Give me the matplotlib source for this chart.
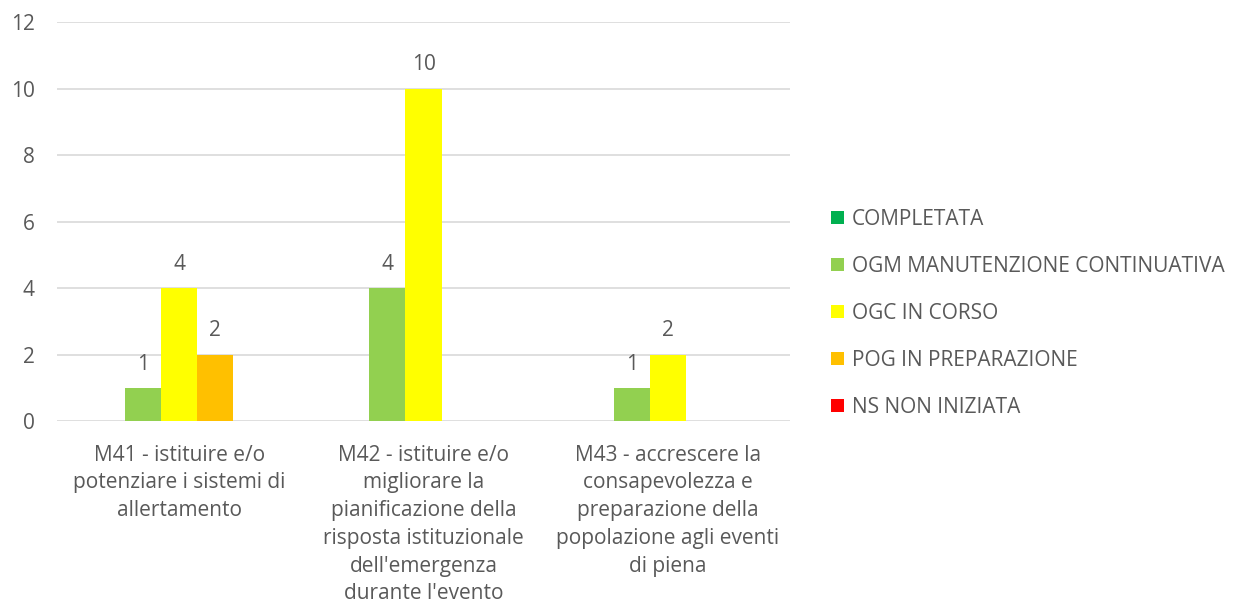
import numpy as np
import matplotlib.pyplot as plt

# Data
categories = [
    "M41 - istituire e/o\npotenziare i sistemi di\nallertamento",
    "M42 - istituire e/o\nmigliorare la\npianificazione della\nrisposta istituzionale\ndell'emergenza\ndurante l'evento",
    "M43 - accrescere la\nconsapevolezza e\npreparazione della\npopolazione agli eventi\ndi piena",
]
series_names = ["COMPLETATA", "OGM MANUTENZIONE CONTINUATIVA", "OGC IN CORSO",
                "POG IN PREPARAZIONE", "NS NON INIZIATA"]
completata = [0, 0, 0]
ogm = [1, 4, 1]
ogc = [4, 10, 2]
pog = [2, 0, 0]
ns = [0, 0, 0]
series_colors = ["#00B050", "#92D050", "#FFFF00", "#FFC000", "#FF0000"]

plt.rcParams['font.family'] = ['Open Sans', 'DejaVu Sans']
text_color = "#595959"
fs = 15

fig = plt.figure(figsize=(12.42, 6.12), dpi=100)
ax = fig.add_axes([0.046, 0.312, 0.59, 0.652])

x = np.arange(len(categories))
width = 0.148
all_series = [completata, ogm, ogc, pog, ns]
for i, (vals, name, col) in enumerate(zip(all_series, series_names, series_colors)):
    pos = x + (i - 2) * width
    bars = ax.bar(pos, vals, width, color=col, label=name, zorder=2)
    for b, v in zip(bars, vals):
        if v > 0:
            ax.text(b.get_x() + b.get_width() / 2, v + 0.4, str(v), ha='center', va='bottom',
                    fontsize=fs, color=text_color)

ax.set_xlim(-0.5, 2.5)
ax.set_ylim(0, 12)
ax.set_yticks(range(0, 13, 2))
ax.set_xticks(x)
ax.set_xticklabels(categories, fontsize=fs, color=text_color, linespacing=1.42)
ax.tick_params(axis='y', labelsize=fs, labelcolor=text_color, length=0, pad=16)
ax.tick_params(axis='x', length=0, pad=17)
ax.grid(axis='y', color="#D9D9D9", linewidth=1.2, zorder=0)
for s in ax.spines.values():
    s.set_visible(False)

ax.legend(loc='center left', bbox_to_anchor=(1.031, 0.27), frameon=False, fontsize=fs,
          labelcolor=text_color, handlelength=0.6, handleheight=0.6, handletextpad=0.4,
          labelspacing=1.25)

fig.savefig("out.png", dpi=100)
